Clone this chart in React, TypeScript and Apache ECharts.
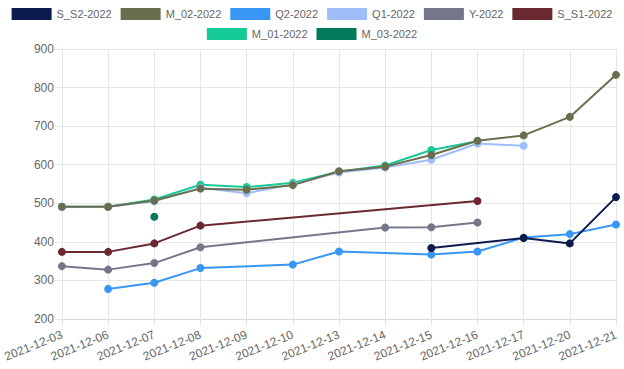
import React, { useEffect, useRef } from "react";
import * as echarts from "echarts";

const categories = [
  "2021-12-03", "2021-12-06", "2021-12-07", "2021-12-08", "2021-12-09", "2021-12-10",
  "2021-12-13", "2021-12-14", "2021-12-15", "2021-12-16", "2021-12-17", "2021-12-20", "2021-12-21",
];

const sS2 = [null, null, null, null, null, null, null, null, 384, null, 410, 396, 516];
const m02 = [491, 491, 507, 538, 535, 547, 583, 595, 625, 662, 676, 724, 833];
const q2 = [null, 278, 294, 332, null, 341, 375, null, 367, 375, 411, 420, 445];
const q1 = [491, 491, 505, 540, 526, 549, 580, 593, 613, 655, 649, null, null];
const y2022 = [337, 328, 345, 386, null, null, null, 437, 438, 450, null, null, null];
const sS1 = [374, 374, 396, 442, null, null, null, null, null, 506, null, null, null];
const m01 = [491, 491, 510, 548, 542, 553, 582, 598, 638, 661, null, null, null];
const m03 = [null, null, 465, null, null, null, null, null, null, null, null, null, null];

const seriesNames = ["S_S2-2022", "M_02-2022", "Q2-2022", "Q1-2022", "Y-2022", "S_S1-2022", "M_01-2022", "M_03-2022"];
const seriesData = [sS2, m02, q2, q1, y2022, sS1, m01, m03];
const seriesColors = ["#0b1b4d", "#6b6e4e", "#3896f5", "#9ebefa", "#74778a", "#6b2831", "#14cb98", "#007a5a"];

const FONT = "'Liberation Sans', Arial, Helvetica, sans-serif";

export default function App() {
  const ref = useRef<HTMLDivElement>(null);
  useEffect(() => {
    if (!ref.current) return;
    const chart = echarts.init(ref.current, undefined, { renderer: "svg" });
    const series = seriesNames
      .map((name, i) => ({
        name,
        type: "line",
        data: seriesData[i],
        connectNulls: true,
        symbol: "circle",
        symbolSize: 8,
        showSymbol: true,
        lineStyle: { width: 2, color: seriesColors[i] },
        itemStyle: { color: seriesColors[i] },
        emphasis: { disabled: true },
      }))
      .reverse();
    const legendBase = {
      left: "center",
      padding: 0,
      itemWidth: 40,
      itemHeight: 12,
      itemGap: 9,
      icon: "rect",
      textStyle: { fontSize: 11, color: "#666", fontFamily: FONT },
    };
    chart.setOption({
      animation: false,
      textStyle: { fontFamily: FONT },
      legend: [
        { ...legendBase, data: seriesNames.slice(0, 6), top: 8 },
        { ...legendBase, data: seriesNames.slice(6), top: 28 },
      ],
      grid: { left: 56, right: 8, top: 49, bottom: 50, containLabel: false },
      xAxis: {
        type: "category",
        data: categories,
        boundaryGap: false,
        axisLine: { show: true, lineStyle: { color: "#dadada", width: 1 } },
        axisTick: { show: true, length: 7, lineStyle: { color: "#e6e6e6" } },
        splitLine: { show: true, lineStyle: { color: "#e6e6e6" } },
        axisLabel: { rotate: 22, fontSize: 12, color: "#666", margin: 15, fontFamily: FONT, interval: 0 },
      },
      yAxis: {
        type: "value",
        min: 200,
        max: 900,
        interval: 100,
        axisLine: { show: true, lineStyle: { color: "#e6e6e6" } },
        axisTick: { show: true, length: 7, lineStyle: { color: "#e6e6e6" } },
        splitLine: { show: true, lineStyle: { color: "#e6e6e6" } },
        axisLabel: { fontSize: 12, color: "#666", margin: 8, fontFamily: FONT },
      },
      series,
    });
    return () => chart.dispose();
  }, []);
  return <div ref={ref} style={{ width: 624, height: 369, position: "absolute", left: 0, top: 0 }} />;
}
